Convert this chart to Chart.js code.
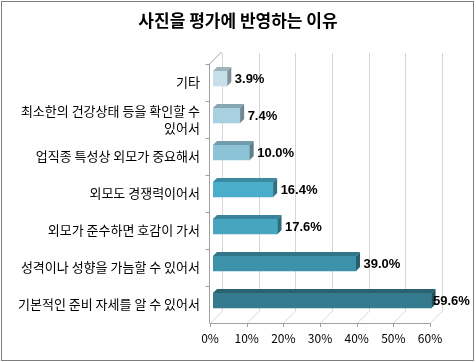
<!DOCTYPE html>
<html>
<head>
<meta charset="utf-8">
<script src="https://cdn.jsdelivr.net/npm/chart.js@4/dist/chart.umd.min.js"></script>
<style>
  html, body { margin: 0; padding: 0; background: #fff; }
</style>
</head>
<body>
<canvas id="chart" width="476" height="362"></canvas>
<script>
const title = '사진을 평가에 반영하는 이유';
const categories = [
  '기타',
  ['최소한의 건강상태 등을 확인할 수', '있어서'],
  '업직종 특성상 외모가 중요해서',
  '외모도 경쟁력이어서',
  '외모가 준수하면 호감이 가서',
  '성격이나 성향을 가늠할 수 있어서',
  '기본적인 준비 자세를 알 수 있어서',
];
const values = [3.9, 7.4, 10.0, 16.4, 17.6, 39.0, 59.6];
const barColors = ['#c6dfe9', '#a9d0e0', '#8cc3d6', '#4aadca', '#47a5c0', '#3d92aa', '#357b8f'];
const xMax = 60;
const xStep = 10;

const FONT = '"Noto Sans CJK KR", "Noto Sans", sans-serif';
const DEPTH = 12;   // wall depth
const BAR_D = 4;    // bar depth
const SHIFT_X = 3, SHIFT_Y = -4;

function shade(hex, f) {
  const n = parseInt(hex.slice(1), 16);
  const r = Math.round(((n >> 16) & 255) * f);
  const g = Math.round(((n >> 8) & 255) * f);
  const b = Math.round((n & 255) * f);
  return `rgb(${r},${g},${b})`;
}

const frame3d = {
  id: 'frame3d',
  beforeDraw(chart) {
    const ctx = chart.ctx;
    ctx.save();
    ctx.fillStyle = '#fff';
    ctx.fillRect(0, 0, chart.width, chart.height);
    ctx.strokeStyle = '#808080';
    ctx.lineWidth = 1;
    ctx.strokeRect(1.5, 1.5, chart.width - 4, chart.height - 3);
    // title centred on the whole canvas
    ctx.fillStyle = '#000';
    ctx.font = 'bold 17px ' + FONT;
    ctx.textAlign = 'center';
    ctx.textBaseline = 'middle';
    ctx.fillText(title, chart.width / 2, 21);
    ctx.restore();
  },
  beforeDatasetsDraw(chart) {
    const ctx = chart.ctx;
    const { top, bottom, left } = chart.chartArea;
    const xs = chart.scales.x, ys = chart.scales.y;
    ctx.save();
    ctx.lineWidth = 1;
    // back wall grid + floor diagonals
    ctx.strokeStyle = '#d6d6d6';
    for (let v = 0; v <= xMax; v += xStep) {
      const px = Math.round(xs.getPixelForValue(v)) + 0.5;
      ctx.beginPath();
      ctx.moveTo(px + DEPTH, top - DEPTH + 1);
      ctx.lineTo(px + DEPTH, bottom - DEPTH);
      ctx.lineTo(px, bottom);
      ctx.stroke();
    }
    // left wall
    const ax = Math.round(left) - 0.5;
    ctx.strokeStyle = '#a0a0a0';
    ctx.beginPath();
    ctx.moveTo(ax + DEPTH, top - DEPTH);
    ctx.lineTo(ax, top);
    ctx.lineTo(ax, bottom);
    ctx.stroke();
    // category ticks
    const half = (ys.getPixelForValue(1) - ys.getPixelForValue(0)) / 2;
    for (let i = 0; i < categories.length; i++) {
      const py = Math.round(ys.getPixelForValue(i) - half) + 0.5;
      ctx.beginPath();
      ctx.moveTo(ax - 4, py);
      ctx.lineTo(ax, py);
      ctx.stroke();
    }
    // x axis + ticks
    ctx.beginPath();
    ctx.moveTo(ax, Math.round(bottom) + 0.5);
    ctx.lineTo(Math.round(xs.getPixelForValue(xMax)) + 0.5, Math.round(bottom) + 0.5);
    ctx.stroke();
    for (let v = 0; v <= xMax; v += xStep) {
      const px = Math.round(xs.getPixelForValue(v)) + 0.5;
      ctx.beginPath();
      ctx.moveTo(px, bottom);
      ctx.lineTo(px, bottom + 4);
      ctx.stroke();
    }
    ctx.restore();
    // bars sit slightly inside the depth
    ctx.save();
    ctx.translate(SHIFT_X, SHIFT_Y);
  },
  afterDatasetsDraw(chart) {
    const ctx = chart.ctx;
    const meta = chart.getDatasetMeta(0);
    meta.data.forEach((el, i) => {
      const x0 = el.base, x1 = el.x;
      const t = el.y - el.height / 2, b = el.y + el.height / 2;
      ctx.fillStyle = shade(barColors[i], 0.8);
      ctx.beginPath();
      ctx.moveTo(x0, t);
      ctx.lineTo(x1, t);
      ctx.lineTo(x1 + BAR_D, t - BAR_D);
      ctx.lineTo(x0 + BAR_D, t - BAR_D);
      ctx.closePath();
      ctx.fill();
      ctx.fillStyle = shade(barColors[i], 0.65);
      ctx.beginPath();
      ctx.moveTo(x1, t);
      ctx.lineTo(x1 + BAR_D, t - BAR_D);
      ctx.lineTo(x1 + BAR_D, b - BAR_D);
      ctx.lineTo(x1, b);
      ctx.closePath();
      ctx.fill();
      ctx.fillStyle = '#000';
      ctx.font = 'bold 13px "Liberation Sans", Arial, sans-serif';
      ctx.textBaseline = 'middle';
      ctx.textAlign = 'left';
      const lx = Math.min(x1 + 7.5, chart.chartArea.right);
      ctx.fillText(values[i].toFixed(1) + '%', lx, el.y + 1);
    });
    ctx.restore();
  },
};

new Chart(document.getElementById('chart'), {
  type: 'bar',
  data: {
    labels: categories,
    datasets: [{
      data: values,
      backgroundColor: barColors,
      borderWidth: 0,
      barThickness: 15,
    }],
  },
  options: {
    indexAxis: 'y',
    responsive: false,
    animation: false,
    layout: { padding: { left: 0, right: 46, top: 64, bottom: 0 } },
    plugins: {
      legend: { display: false },
      tooltip: { enabled: false },
      title: { display: false },
    },
    scales: {
      x: {
        min: 0,
        max: xMax,
        ticks: {
          stepSize: xStep,
          callback: (v) => v + '%',
          color: '#000',
          font: { family: FONT, size: 12 },
          padding: 8,
          maxRotation: 0,
        },
        grid: { display: false, drawTicks: false },
        border: { display: false },
        afterFit: (s) => { s.height = 39; },
      },
      y: {
        ticks: {
          color: '#000',
          font: { family: FONT, size: 13, lineHeight: 1.3 },
          padding: 10,
          autoSkip: false,
        },
        grid: { display: false, drawTicks: false },
        border: { display: false },
        afterFit: (s) => { s.width = 210; },
      },
    },
  },
  plugins: [frame3d],
});
</script>
</body>
</html>
